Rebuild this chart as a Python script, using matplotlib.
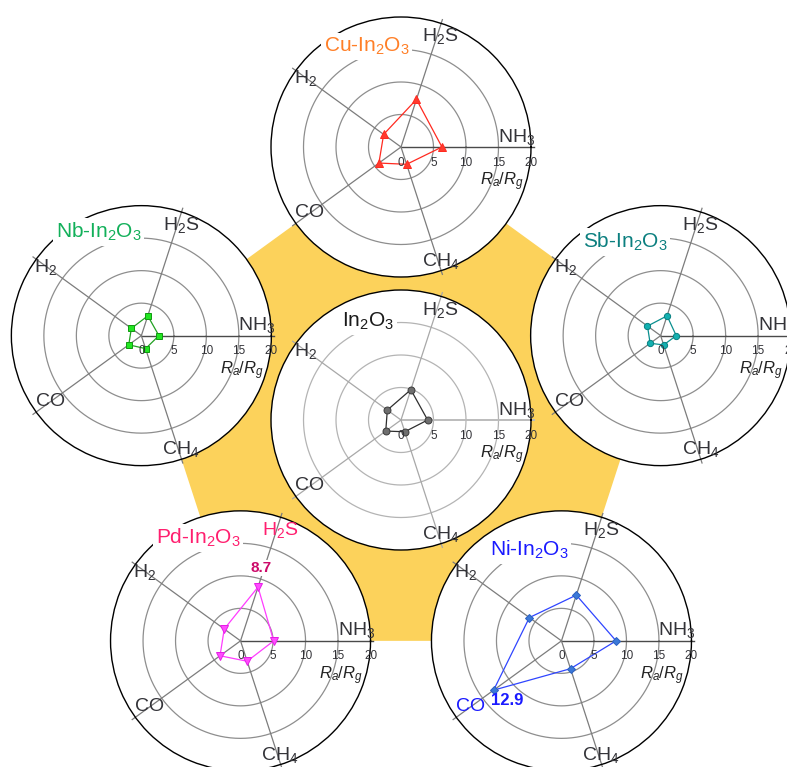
import numpy as np
import matplotlib
matplotlib.use("Agg")
import matplotlib.pyplot as plt
from matplotlib.patches import Polygon

plt.rcParams["font.family"] = ["Liberation Sans", "DejaVu Sans"]
plt.rcParams["mathtext.fontset"] = "custom"
plt.rcParams["mathtext.rm"] = "Liberation Sans"
plt.rcParams["mathtext.it"] = "Liberation Sans:italic"
plt.rcParams["mathtext.bf"] = "Liberation Sans:bold"
plt.rcParams["mathtext.default"] = "regular"

# ---- data: response Ra/Rg of each sensor to five gases ----
gases = ["NH$_3$", "H$_2$S", "H$_2$", "CO", "CH$_4$"]
gas_angles = [0, 72, 144, 216, 288]          # degrees, one spoke per gas
ring_ticks = [0, 5, 10, 15, 20]

in2o3 = [4.1, 4.9, 2.6, 2.9, 1.9]
cu_in2o3 = [6.3, 7.7, 3.3, 4.2, 2.8]
sb_in2o3 = [2.4, 3.2, 2.5, 2.0, 1.5]
ni_in2o3 = [8.4, 7.4, 6.1, 12.9, 4.5]
pd_in2o3 = [5.1, 8.7, 3.1, 3.9, 3.3]
nb_in2o3 = [2.7, 3.2, 1.9, 2.4, 2.1]

# ---- figure layout (pixels) ----
W, H = 787, 767
fig = plt.figure(figsize=(W / 100, H / 100), dpi=100)
fig.patch.set_facecolor("white")

CX, CY = 401, 420       # centre of the arrangement
RING = 273              # distance from centre chart to the outer charts
RAD = 130               # radius of each radar (r = 20)


def pos(angle_deg):
    a = np.deg2rad(angle_deg)
    return CX + RING * np.cos(a), CY - RING * np.sin(a)


charts = [
    # name, values, position angle, marker, face, edge, line, title colour, title offset
    dict(name="In$_2$O$_3$", vals=in2o3, at=None, m="o", mfc="#6e6e6e", mec="#3a3a3a",
         lc="#2e2e2e", tc="#1a1a1a", toff=(-5.1, 15.2), ms=5, light=True),
    dict(name="Cu-In$_2$O$_3$", vals=cu_in2o3, at=90, m="^", mfc="#ff3b2f", mec="#ff2a20",
         lc="#ff2a20", tc="#ff7f27", toff=(-5.3, 15.5), ms=5.5),
    dict(name="Sb-In$_2$O$_3$", vals=sb_in2o3, at=18, m="o", mfc="#13b0b0", mec="#067f80",
         lc="#0a8f8f", tc="#0b7f7f", toff=(-5.5, 14.4), ms=4.5),
    dict(name="Ni-In$_2$O$_3$", vals=ni_in2o3, at=-54, m="D", mfc="#3b78d8", mec="#2a5fc0",
         lc="#2f45ff", tc="#1a1aff", toff=(-5.0, 14.0), ms=4.5),
    dict(name="Pd-In$_2$O$_3$", vals=pd_in2o3, at=-126, m="v", mfc="#ff4cff", mec="#e61ee6",
         lc="#ff3cff", tc="#ff1f6f", toff=(-6.5, 15.8), ms=5.5),
    dict(name="Nb-In$_2$O$_3$", vals=nb_in2o3, at=162, m="s", mfc="#22e622", mec="#119a11",
         lc="#22a022", tc="#12b05a", toff=(-6.6, 15.9), ms=4.2),
]

# ---- yellow pentagon joining the outer chart centres ----
bg = fig.add_axes([0, 0, 1, 1])
bg.set_xlim(0, W)
bg.set_ylim(H, 0)
bg.axis("off")
penta = [pos(c["at"]) for c in charts if c["at"] is not None]
bg.add_patch(Polygon(penta, closed=True, facecolor="#fcd25b", edgecolor="none"))

label_offsets = [(17.8, 1.6), (6.1, 17.0), (-14.7, 10.6), (-14.0, -10.1), (6.1, -17.5)]
TXT = "#333338"


def to_axes(ux, uy):
    return 0.5 + ux / 40.0, 0.5 + uy / 40.0


for c in charts:
    cx, cy = (CX, CY) if c["at"] is None else pos(c["at"])
    rect = [(cx - RAD) / W, (H - cy - RAD) / H, 2 * RAD / W, 2 * RAD / H]
    ax = fig.add_axes(rect, projection="polar")
    ax.set_facecolor("white")
    ax.set_ylim(0, 20)
    ax.set_xticks([])
    ax.set_yticks([])
    ax.grid(False)
    ax.spines["polar"].set_color("black")
    ax.spines["polar"].set_linewidth(1.0)

    light = c.get("light", False)
    ring_col = "#b4b4b4" if light else "#8e8e8e"
    spoke_col = "#a8a8a8" if light else "#7c7c7c"
    main_col = "#bcbcbc" if light else "#4a4a4a"

    th = np.linspace(0, 2 * np.pi, 361)
    for r in ring_ticks[1:-1]:
        ax.plot(th, np.full_like(th, r), color=ring_col, lw=0.9, zorder=1)
    for k, a in enumerate(gas_angles):
        t = np.deg2rad(a)
        if k == 0:
            ax.plot([t, t], [0, 20.4], color=main_col, lw=1.4 if light else 1.0,
                    zorder=1.2, clip_on=False)
        else:
            ax.plot([t, t], [0, 20.6], color=spoke_col, lw=0.9, zorder=1.2, clip_on=False)

    # data polygon
    theta = np.deg2rad(gas_angles + [gas_angles[0]])
    vals = c["vals"] + [c["vals"][0]]
    ax.plot(theta, vals, color=c["lc"], lw=0.9, zorder=3)
    ax.plot(theta[:-1], vals[:-1], ls="none", marker=c["m"], ms=c["ms"],
            mfc=c["mfc"], mec=c["mec"], mew=0.7, zorder=4)

    # gas labels
    for k, (g, (ux, uy)) in enumerate(zip(gases, label_offsets)):
        col = TXT
        if c["name"].startswith("Pd") and k == 1:
            col = c["tc"]
        if c["name"].startswith("Ni") and k == 3:
            col = c["tc"]
        ax.text(*to_axes(ux, uy), g, transform=ax.transAxes, ha="center", va="center",
                fontsize=14, color=col, zorder=5)

    # ring scale along NH3 spoke
    for r in ring_ticks:
        ax.text(*to_axes(r, -2.4), str(r), transform=ax.transAxes, ha="center",
                va="center", fontsize=8.5, color=TXT, zorder=5)
    ax.text(*to_axes(15.5, -5.4), "$\\mathit{R_a/R_g}$", transform=ax.transAxes,
            ha="center", va="center", fontsize=12, color="#222222", zorder=5)

    # sample name
    ax.text(*to_axes(*c["toff"]), c["name"], transform=ax.transAxes, ha="center",
            va="center", fontsize=15, color=c["tc"], zorder=6,
            bbox=dict(facecolor="white", edgecolor="none", pad=2))

    # highlighted maxima
    if c["name"].startswith("Pd"):
        v = c["vals"][1]
        ax.text(*to_axes(3.2, 11.2), f"{v}", transform=ax.transAxes, ha="center",
                va="center", fontsize=11, fontweight="bold", color="#cc0a6a", zorder=6,
                bbox=dict(facecolor="white", edgecolor="none", pad=1))
    if c["name"].startswith("Ni"):
        v = c["vals"][3]
        ax.text(*to_axes(-8.3, -9.2), f"{v}", transform=ax.transAxes, ha="center",
                va="center", fontsize=12, fontweight="bold", color="#1a1aff", zorder=6)

fig.savefig("out.png", dpi=100, facecolor="white")
